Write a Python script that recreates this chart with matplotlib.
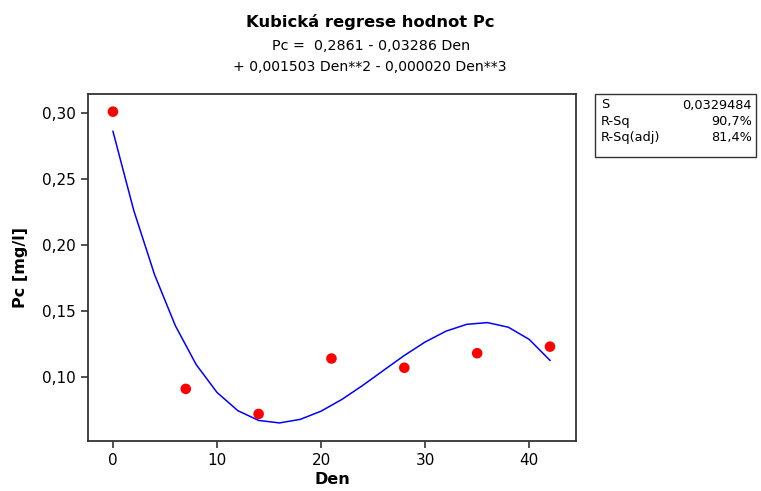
import matplotlib
matplotlib.use('Agg')
import matplotlib.pyplot as plt
from matplotlib.ticker import FuncFormatter

plt.rcParams['font.family'] = ['DejaVu Sans']

# measured values
den = [0, 7, 14, 21, 28, 35, 42]
pc = [0.301, 0.091, 0.072, 0.114, 0.107, 0.118, 0.123]

# fitted curve
fit_den = [0, 2, 4, 6, 8, 10, 12, 14, 16, 18, 20, 22, 24, 26, 28, 30, 32, 34, 36, 38, 40, 42]
fit_pc = [0.2861, 0.2262, 0.1775, 0.1388, 0.1094, 0.0883, 0.0745, 0.0671, 0.0652, 0.0679,
          0.0741, 0.0830, 0.0936, 0.1050, 0.1163, 0.1265, 0.1347, 0.1399, 0.1412, 0.1377,
          0.1285, 0.1126]

stat_names = ['S', 'R-Sq', 'R-Sq(adj)']
stat_values = ['0,0329484', '90,7%', '81,4%']

fig = plt.figure(figsize=(7.61, 4.91), dpi=100)
ax = fig.add_axes([0.1156, 0.1018, 0.6413, 0.7068])

ax.plot(fit_den, fit_pc, color='#0000ff', lw=1.1, zorder=2)
ax.scatter(den, pc, s=58, color='#ff0000', edgecolors='none', zorder=3)

ax.set_xlim(-2.4, 44.5)
ax.set_ylim(0.0515, 0.3144)
ax.set_xticks([0, 10, 20, 30, 40])
ax.set_yticks([0.10, 0.15, 0.20, 0.25, 0.30])
ax.yaxis.set_major_formatter(FuncFormatter(lambda v, p: f'{v:.2f}'.replace('.', ',')))
ax.tick_params(labelsize=11, length=5, width=1.2, color='#333333')
for s in ax.spines.values():
    s.set_linewidth(1.3)
    s.set_color('#333333')

ax.set_xlabel('Den', fontsize=11.5, fontweight='bold', labelpad=3)
ax.set_ylabel('Pc [mg/l]', fontsize=11.5, fontweight='bold', labelpad=10)

fig.text(370 / 761, 1 - 22 / 491, 'Kubická regrese hodnot Pc', ha='center', va='center',
         fontsize=11.8, fontweight='bold')
fig.text(371 / 761, 1 - 46 / 491, 'Pc =  0,2861 - 0,03286 Den', ha='center', va='center',
         fontsize=10.3)
fig.text(370 / 761, 1 - 67 / 491, '+ 0,001503 Den**2 - 0,000020 Den**3', ha='center',
         va='center', fontsize=10.1)

# statistics box
box = plt.Rectangle((595 / 761, 1 - 157 / 491), 161 / 761, 63 / 491,
                    transform=fig.transFigure, fill=False, lw=1.0, edgecolor='#333333')
fig.add_artist(box)
for i, (n, v) in enumerate(zip(stat_names, stat_values)):
    y = 1 - (105 + i * 16) / 491
    fig.text(601 / 761, y, n, ha='left', va='center', fontsize=9.3)
    fig.text(752 / 761, y, v, ha='right', va='center', fontsize=9.3)

fig.savefig('out.png', dpi=100)
